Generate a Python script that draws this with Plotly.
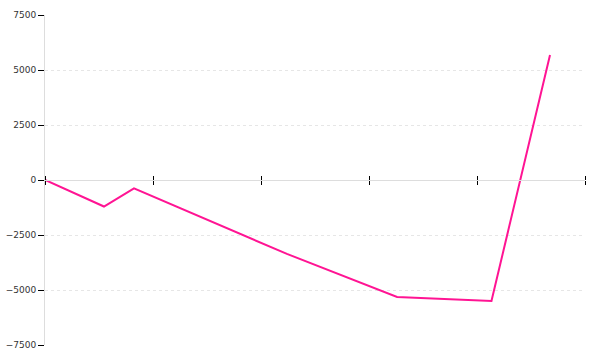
import plotly.graph_objects as go

x_vals = [0, 0.315, 0.546, 0.824, 2.24, 3.26, 4.134, 4.676]
y_vals = [0, -680, -1205, -380, -3360, -5320, -5500, 5680]
y_ticks = [-7500, -5000, -2500, 0, 2500, 5000, 7500]
x_ticks = [0, 1, 2, 3, 4, 5]

fig = go.Figure()
fig.add_trace(go.Scatter(x=x_vals, y=y_vals, mode="lines",
                         line=dict(color="#ff1493", width=2), showlegend=False,
                         hoverinfo="skip"))
fig.add_trace(go.Scatter(x=[x_ticks[0]], y=[0], xaxis="x2", mode="none",
                         showlegend=False, hoverinfo="skip"))

axis_font = dict(family="DejaVu Sans, Verdana, sans-serif", size=9, color="#333")

fig.update_layout(
    width=600, height=360,
    margin=dict(l=45, r=15, t=15, b=15),
    paper_bgcolor="white", plot_bgcolor="white",
    xaxis=dict(range=[x_ticks[0], x_ticks[-1]], tickvals=x_ticks, showticklabels=False,
               ticks="outside", ticklen=4, tickwidth=1, tickcolor="#000",
               showline=True, linecolor="#dddddd", linewidth=1,
               showgrid=False, zeroline=False, automargin=False,
               anchor="free", position=0.5),
    xaxis2=dict(range=[x_ticks[0], x_ticks[-1]], tickvals=x_ticks, showticklabels=False,
                ticks="outside", ticklen=4, tickwidth=1, tickcolor="#000",
                showline=False, showgrid=False, zeroline=False, automargin=False,
                overlaying="x", side="top", anchor="free", position=0.5),
    yaxis=dict(range=[y_ticks[0], y_ticks[-1]], tickvals=y_ticks,
               ticks="outside", ticklen=6, tickwidth=1, tickcolor="#000",
               showline=True, linecolor="#dddddd", linewidth=1,
               showgrid=True, gridcolor="#e6e6e6", griddash="dot", gridwidth=1,
               zeroline=False, automargin=False, tickfont=axis_font),
)

fig.write_html("out.html")
